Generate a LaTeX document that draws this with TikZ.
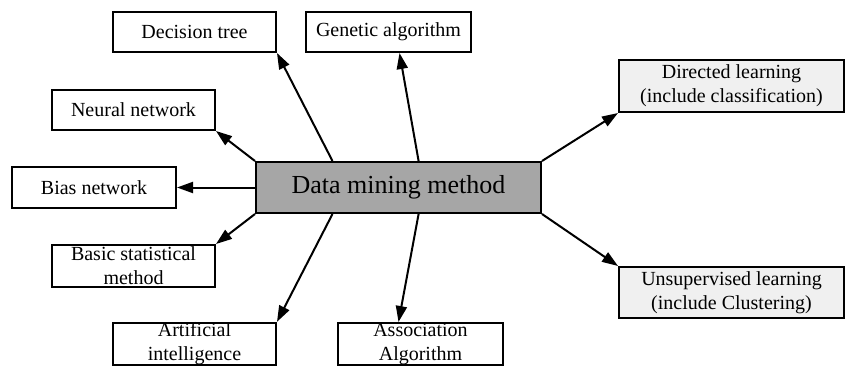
\documentclass[tikz,border=0pt]{standalone}
\usepackage{fontspec}
\setmainfont{Liberation Serif}
\usetikzlibrary{arrows.meta,calc}

\tikzset{
  leaf/.style={draw, line width=2pt, fill=white, inner sep=0pt, align=center,
    font=\fontsize{20}{24}\selectfont},
  learn/.style={leaf, fill=black!6},
  hub/.style={draw, line width=2pt, fill=black!35, inner sep=0pt,
    font=\fontsize{26}{29}\selectfont},
  link/.style={line width=2pt, -{Triangle[length=16pt,width=11pt]}}
}

\begin{document}
\begin{tikzpicture}[x=1pt,y=1pt,yscale=-1]
\useasboundingbox (0,0) rectangle (846,368);

% centre
\node[hub, minimum width=285pt, minimum height=51pt] (dm) at (398.5,187.5) {Data mining method};

% methods round the centre
\node[leaf, minimum width=163pt, minimum height=40pt] (dt) at (194.5,32) {Decision tree};
\node[leaf, minimum width=165pt, minimum height=40pt] (ga) at (388.5,32) {Genetic algorithm};
\node[leaf, minimum width=163pt, minimum height=40pt] (nn) at (133.5,110) {Neural network};
\node[leaf, minimum width=164pt, minimum height=41pt] (bn) at (94,187.5) {Bias network};
\node[leaf, minimum width=163pt, minimum height=42pt] (bsm) at (133.5,266) {Basic statistical\\method};
\node[leaf, minimum width=163pt, minimum height=42pt] (ai) at (194.5,344) {Artificial\\intelligence};
\node[leaf, minimum width=165pt, minimum height=42pt] (aa) at (420.5,344) {Association\\Algorithm};

% learning kinds
\node[learn, minimum width=225pt, minimum height=52pt] (dl) at (731.5,86) {Directed learning\\(include classification)};
\node[learn, minimum width=225pt, minimum height=51pt] (ul) at (731.5,292.5) {Unsupervised learning\\(include Clustering)};

% points on the centre box
\coordinate (t1) at ($(dm.north west)!0.27!(dm.north east)$);
\coordinate (t2) at ($(dm.north west)!0.57!(dm.north east)$);
\coordinate (b1) at ($(dm.south west)!0.27!(dm.south east)$);
\coordinate (b2) at ($(dm.south west)!0.57!(dm.south east)$);

% arrows
\draw[link] (dm.north west) -- (nn.south east);
\draw[link] (t1) -- (dt.south east);
\draw[link] (t2) -- ($(ga.south)+(11,0)$);
\draw[link] (dm.west) -- (bn.east);
\draw[link] (dm.south west) -- (bsm.north east);
\draw[link] (b1) -- (ai.north east);
\draw[link] (b2) -- ($(aa.north)+(-22,0)$);
\draw[link] (dm.north east) -- (dl.south west);
\draw[link] (dm.south east) -- (ul.north west);
\end{tikzpicture}
\end{document}
